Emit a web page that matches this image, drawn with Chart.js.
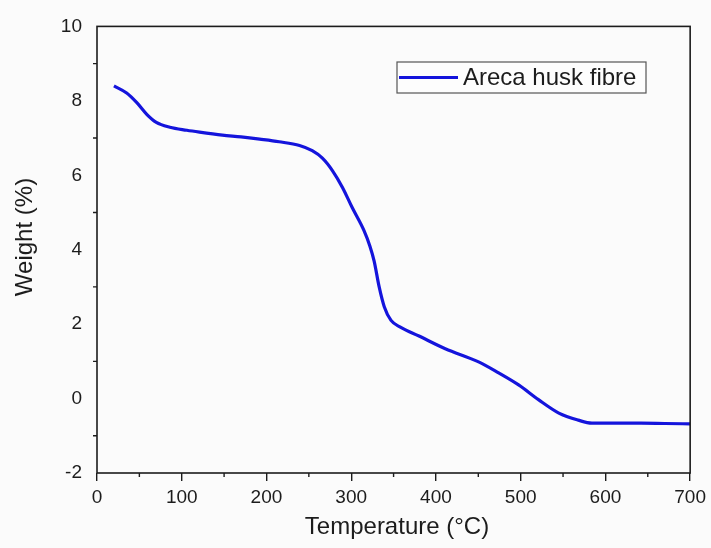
<!DOCTYPE html>
<html>
<head>
<meta charset="utf-8">
<script src="https://cdn.jsdelivr.net/npm/chart.js@4.4.0/dist/chart.umd.min.js"></script>
<style>
html,body{margin:0;padding:0;background:#fbfbfb;}
#wrap{width:711px;height:548px;}
</style>
</head>
<body>
<div id="wrap"><canvas id="c" width="711" height="548"></canvas></div>
<script>
const temperature = [20,35,47,59,70,86,106,121,148,170,192,215,239,254,266,278,290,301,315,322,327,333,339,347,358,380,411,451,474,498,521,545,568,584,615,642,670,700];
const weight = [8.40,8.21,7.95,7.63,7.42,7.29,7.21,7.16,7.08,7.03,6.97,6.90,6.80,6.66,6.46,6.12,5.66,5.14,4.52,4.10,3.70,3.0,2.47,2.10,1.92,1.68,1.34,0.98,0.69,0.36,-0.03,-0.39,-0.58,-0.66,-0.66,-0.66,-0.67,-0.68];
const seriesLabel = 'Areca husk fibre';
const xTitle = 'Temperature (°C)';
const yTitle = 'Weight (%)';
const xMinorTicks = [50,150,250,350,450,550,650];
const yMinorTicks = [-1,1,3,5,7,9];

const FONT = "'Liberation Sans', Arial, sans-serif";
const INK = '#1c1c1c';

const decor = {
  id: 'decor',
  beforeDraw(chart) {
    const ctx = chart.ctx;
    ctx.save();
    ctx.fillStyle = '#fbfbfb';
    ctx.fillRect(0, 0, chart.width, chart.height);
    ctx.restore();
  },
  afterDraw(chart) {
    const ctx = chart.ctx;
    const a = chart.chartArea;
    const xs = chart.scales.x, ys = chart.scales.y;
    ctx.save();
    ctx.strokeStyle = INK;
    ctx.lineWidth = 1.6;
    ctx.strokeRect(a.left, a.top, a.right - a.left, a.bottom - a.top);
    ctx.lineWidth = 1.4;
    ctx.beginPath();
    xMinorTicks.forEach(v => {
      const px = xs.getPixelForValue(v);
      ctx.moveTo(px, a.bottom);
      ctx.lineTo(px, a.bottom + 4);
    });
    yMinorTicks.forEach(v => {
      const py = ys.getPixelForValue(v);
      ctx.moveTo(a.left, py);
      ctx.lineTo(a.left - 4, py);
    });
    ctx.stroke();
    ctx.fillStyle = INK;
    ctx.font = '24px ' + FONT;
    ctx.textAlign = 'center';
    ctx.textBaseline = 'middle';
    ctx.fillText(xTitle, 397, 527);
    ctx.save();
    ctx.translate(25, 237);
    ctx.rotate(-Math.PI / 2);
    ctx.fillText(yTitle, 0, 0);
    ctx.restore();
    const ds = chart.data.datasets[0];
    ctx.fillStyle = '#fdfdfd';
    ctx.fillRect(397, 62, 249, 31);
    ctx.strokeStyle = '#555';
    ctx.lineWidth = 1.2;
    ctx.strokeRect(397, 62, 249, 31);
    ctx.strokeStyle = ds.borderColor;
    ctx.lineWidth = 3;
    ctx.beginPath();
    ctx.moveTo(399, 77.5);
    ctx.lineTo(458, 77.5);
    ctx.stroke();
    ctx.fillStyle = INK;
    ctx.font = '24px ' + FONT;
    ctx.textAlign = 'left';
    ctx.textBaseline = 'middle';
    ctx.fillText(ds.label, 463, 78);
    ctx.restore();
  }
};

new Chart(document.getElementById('c'), {
  type: 'line',
  data: {
    datasets: [{
      label: seriesLabel,
      data: temperature.map((t, i) => ({x: t, y: weight[i]})),
      borderColor: '#1414dc',
      borderWidth: 3.2,
      pointRadius: 0,
      fill: false,
      cubicInterpolationMode: 'monotone'
    }]
  },
  options: {
    responsive: false,
    animation: false,
    layout: {padding: {top: 17, right: 19, left: 0, bottom: 0}},
    plugins: {legend: {display: false}, tooltip: {enabled: false}},
    scales: {
      x: {
        type: 'linear',
        min: 0, max: 700,
        afterFit(s) { s.height = 75; },
        border: {display: false},
        grid: {drawOnChartArea: false, drawTicks: true, tickLength: 8, color: INK, lineWidth: 1.4},
        ticks: {stepSize: 100, color: INK, padding: 5, font: {family: FONT, size: 19}, maxRotation: 0}
      },
      y: {
        min: -2, max: 10,
        afterFit(s) { s.width = 97; },
        border: {display: false},
        grid: {drawOnChartArea: false, drawTicks: false, tickLength: 0},
        ticks: {stepSize: 2, color: INK, padding: 15, font: {family: FONT, size: 19}}
      }
    }
  },
  plugins: [decor]
});
</script>
</body>
</html>
